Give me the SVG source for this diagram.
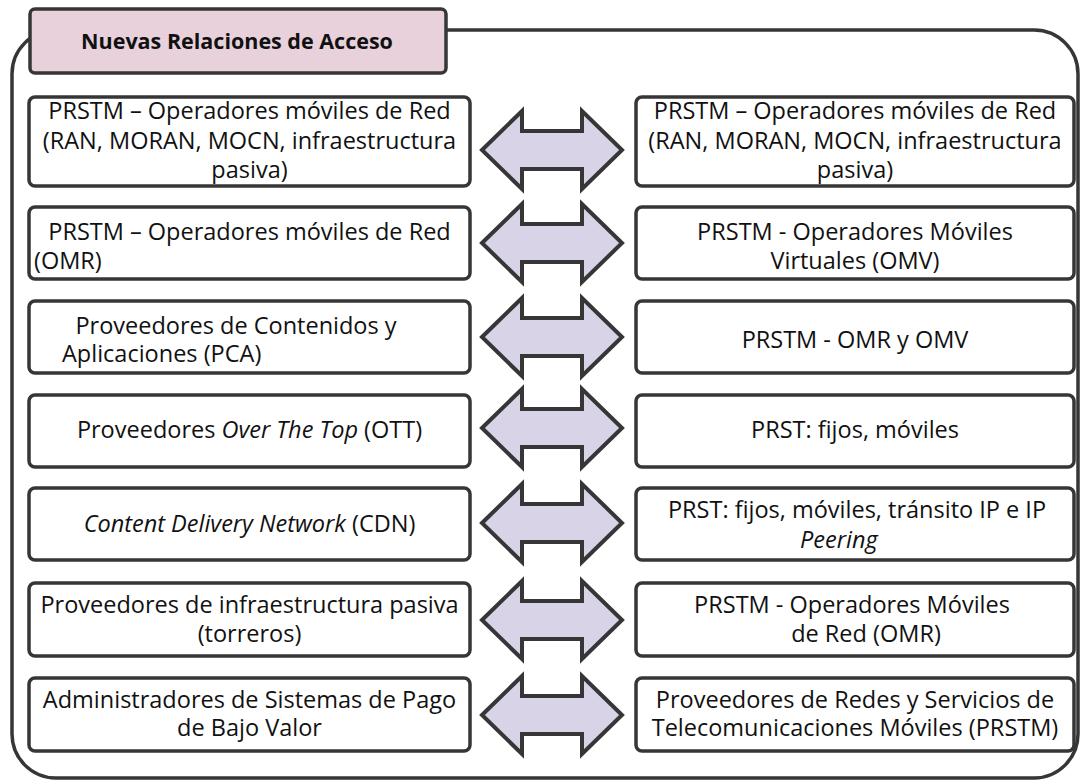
<svg xmlns="http://www.w3.org/2000/svg" width="1081" height="780" viewBox="0 0 1081 780">
<style>
.box{fill:#fff;stroke:#363636;stroke-width:3.5}
.t{font-family:"Open Sans","Liberation Sans",sans-serif;font-size:23.5px;fill:#111;text-anchor:middle}
.s{text-anchor:start}
.arr{fill:#d9d3e8;stroke:#363636;stroke-width:4;stroke-linejoin:miter}
</style>
<defs>
<path id="dbl" d="M482,0 L522,-39 L522,-19 L582,-19 L582,-39 L622,0 L582,39 L582,19 L522,19 L522,39 Z"/>
</defs>
<rect x="12" y="30" width="1066" height="748" rx="44" fill="#fff" stroke="#363636" stroke-width="3.5"/>
<g id="title">
<rect x="30" y="9" width="416" height="64" rx="5" fill="#e9d1dc" stroke="#363636" stroke-width="3.5"/>
<text x="237" y="49" class="t" style="font-weight:bold;font-size:21.5px">Nuevas Relaciones de Acceso</text>
</g>
<g id="connectors">
<use href="#dbl" class="arr" transform="translate(0,150)"/>
<use href="#dbl" class="arr" transform="translate(0,243)"/>
<use href="#dbl" class="arr" transform="translate(0,337)"/>
<use href="#dbl" class="arr" transform="translate(0,428)"/>
<use href="#dbl" class="arr" transform="translate(0,523)"/>
<use href="#dbl" class="arr" transform="translate(0,620)"/>
<use href="#dbl" class="arr" transform="translate(0,715)"/>
</g>
<g id="l1"><rect class="box" x="29" y="97" width="441" height="89" rx="6"/>
<text class="t" x="249.5" y="119">PRSTM – Operadores móviles de Red</text>
<text class="t" x="249.5" y="149">(RAN, MORAN, MOCN, infraestructura</text>
<text class="t" x="249.5" y="178">pasiva)</text></g>
<g id="r1"><rect class="box" x="636" y="97" width="438" height="89" rx="6"/>
<text class="t" x="855" y="119">PRSTM – Operadores móviles de Red</text>
<text class="t" x="855" y="149">(RAN, MORAN, MOCN, infraestructura</text>
<text class="t" x="855" y="178">pasiva)</text></g>
<g id="l2"><rect class="box" x="29" y="207" width="441" height="72" rx="6"/>
<text class="t" x="249.5" y="240">PRSTM – Operadores móviles de Red</text>
<text class="t s" x="34" y="269">(OMR)</text></g>
<g id="r2"><rect class="box" x="636" y="207" width="438" height="72" rx="6"/>
<text class="t" x="855" y="240">PRSTM - Operadores Móviles</text>
<text class="t" x="855" y="269">Virtuales (OMV)</text></g>
<g id="l3"><rect class="box" x="29" y="301" width="441" height="72" rx="6"/>
<text class="t" x="236" y="334">Proveedores de Contenidos y</text>
<text class="t s" x="62" y="362">Aplicaciones (PCA)</text></g>
<g id="r3"><rect class="box" x="636" y="301" width="438" height="72" rx="6"/>
<text class="t" x="855" y="348">PRSTM - OMR y OMV</text></g>
<g id="l4"><rect class="box" x="29" y="395" width="441" height="72" rx="6"/>
<text class="t" x="249.5" y="438">Proveedores <tspan font-style="italic">Over The Top</tspan> (OTT)</text></g>
<g id="r4"><rect class="box" x="636" y="395" width="438" height="72" rx="6"/>
<text class="t" x="855" y="438">PRST: fijos, móviles</text></g>
<g id="l5"><rect class="box" x="29" y="488" width="441" height="72" rx="6"/>
<text class="t" x="249.5" y="532"><tspan font-style="italic">Content Delivery Network</tspan> (CDN)</text></g>
<g id="r5"><rect class="box" x="636" y="488" width="438" height="72" rx="6"/>
<text class="t" x="857" y="518">PRST: fijos, móviles, tránsito IP e IP</text>
<text class="t s" x="800" y="548" font-style="italic">Peering</text></g>
<g id="l6"><rect class="box" x="29" y="583" width="441" height="73" rx="6"/>
<text class="t" x="249.5" y="613">Proveedores de infraestructura pasiva</text>
<text class="t" x="249.5" y="642">(torreros)</text></g>
<g id="r6"><rect class="box" x="636" y="583" width="438" height="73" rx="6"/>
<text class="t" x="852" y="613">PRSTM - Operadores Móviles</text>
<text class="t" x="866" y="642">de Red (OMR)</text></g>
<g id="l7"><rect class="box" x="29" y="678" width="441" height="73" rx="6"/>
<text class="t" x="249.5" y="708">Administradores de Sistemas de Pago</text>
<text class="t" x="249.5" y="736">de Bajo Valor</text></g>
<g id="r7"><rect class="box" x="636" y="678" width="438" height="73" rx="6"/>
<text class="t" x="855" y="708">Proveedores de Redes y Servicios de</text>
<text class="t" x="855" y="736">Telecomunicaciones Móviles (PRSTM)</text></g>
</svg>
